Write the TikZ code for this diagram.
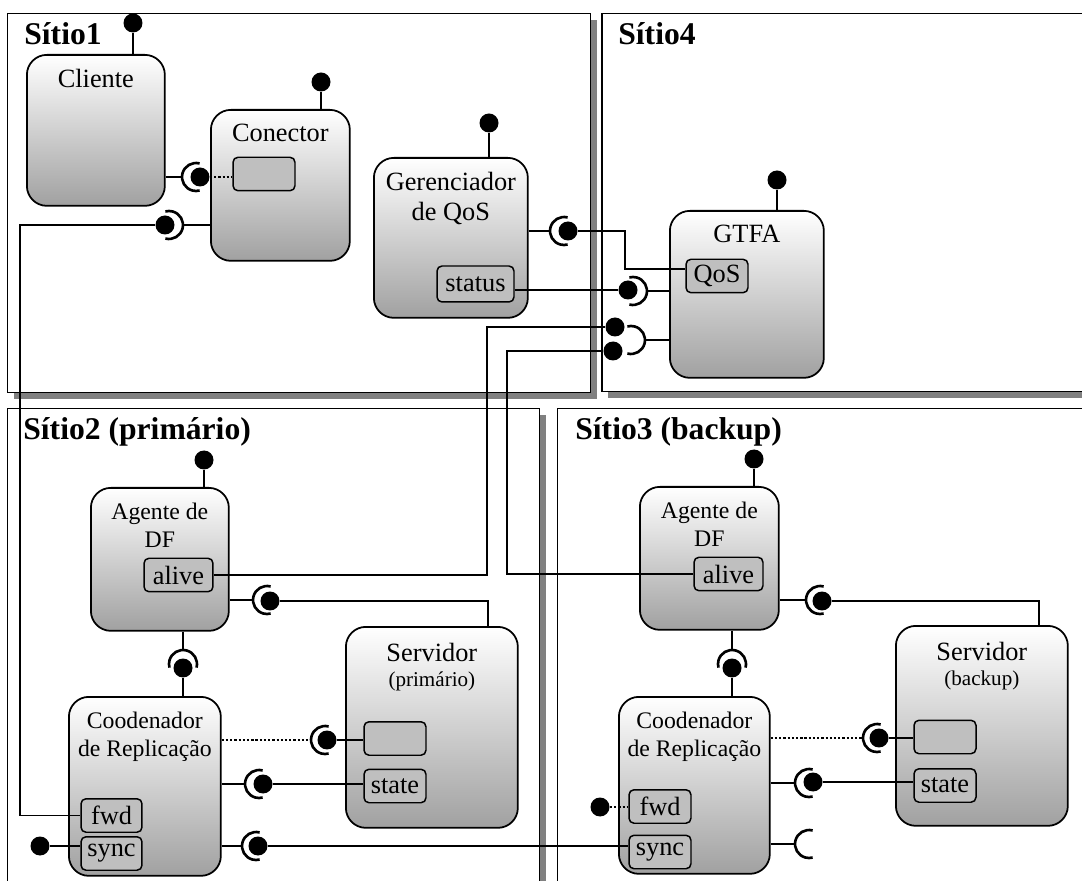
\documentclass[tikz,border=0pt]{standalone}
\usepackage{fontspec}
\setmainfont{Liberation Serif}
\usetikzlibrary{shadows}

\begin{document}
\begin{tikzpicture}[x=0.02cm, y=-0.02cm,
    site/.style={draw, fill=white, line width=0.85pt, anchor=north west, inner sep=0,
      drop shadow={shadow xshift=0.12cm, shadow yshift=-0.12cm, fill=black!50, opacity=1}},
    title/.style={anchor=base west, inner sep=0, font=\fontsize{18}{20}\selectfont\bfseries},
    comp/.style={draw, line width=1pt, rounded corners=0.4cm, anchor=north west, inner sep=0,
      top color=white, bottom color=black!37},
    lbl/.style={anchor=north, inner sep=0, align=center, font=\fontsize{15}{17}\selectfont},
    slbl/.style={lbl, font=\fontsize{13.5}{16}\selectfont},
    port/.style={draw, line width=0.85pt, rounded corners=0.1cm, fill=black!25, inner sep=0,
      minimum width=1.24cm, minimum height=0.67cm, font=\fontsize{15}{17}\selectfont},
    ball/.style={circle, fill=black, inner sep=0, minimum size=0.38cm},
    wire/.style={line width=0.9pt},
    stem/.style={line width=1.2pt},
    sock/.style={line width=1.5pt},
    dots/.style={line width=1.6pt, dash pattern=on 1.3pt off 1.1pt}
  ]
  \useasboundingbox (0,0) rectangle (1082,881);
  \clip (0,0) rectangle (1082,881);

  % sites
  \node[site, minimum width=11.66cm, minimum height=7.58cm] (s1) at (7,13) {};
  \node[site, minimum width=9.88cm, minimum height=7.56cm] (s4) at (601,13) {};
  \node[site, minimum width=10.64cm, minimum height=9.84cm] (s2) at (7,408) {};
  \node[site, minimum width=10.76cm, minimum height=9.84cm] (s3) at (557,408) {};
  \node[title] (s1-t) at (24,45) {Sítio1};
  \node[title] (s4-t) at (618,45) {Sítio4};
  \node[title] (s2-t) at (23,440) {Sítio2 (primário)};
  \node[title] (s3-t) at (575,440) {Sítio3 (backup)};

  % components
  \node[comp, minimum width=2.76cm, minimum height=3.02cm] (cliente) at (26,54) {};
  \node[comp, minimum width=2.78cm, minimum height=3.02cm] (conector) at (210,109) {};
  \node[comp, minimum width=3.08cm, minimum height=3.2cm] (gerente) at (373,157) {};
  \node[comp, minimum width=3.08cm, minimum height=3.34cm] (gtfa) at (669,210) {};
  \node[comp, minimum width=2.76cm, minimum height=2.86cm] (agente2) at (90,487) {};
  \node[comp, minimum width=3.04cm, minimum height=3.58cm] (coord2) at (68,696) {};
  \node[comp, minimum width=3.44cm, minimum height=4.02cm] (serv2) at (345,626) {};
  \node[comp, minimum width=2.78cm, minimum height=2.86cm] (agente3) at (639,486) {};
  \node[comp, minimum width=3.02cm, minimum height=3.54cm] (coord3) at (618,696) {};
  \node[comp, minimum width=3.44cm, minimum height=4.0cm] (serv3) at (895,625) {};

  \node[lbl] (cliente-t) at ([yshift=-0.3cm]cliente.north) {Cliente};
  \node[lbl] (conector-t) at ([yshift=-0.3cm]conector.north) {Conector};
  \node[lbl] (gerente-t) at ([yshift=-0.3cm]gerente.north) {Gerenciador\\de QoS};
  \node[lbl] (gtfa-t) at ([yshift=-0.3cm]gtfa.north) {GTFA};
  \node[slbl] (agente2-t) at ([yshift=-0.32cm]agente2.north) {Agente de\\DF};
  \node[slbl] (agente3-t) at ([yshift=-0.32cm]agente3.north) {Agente de\\DF};
  \node[slbl] (coord2-t) at ([yshift=-0.32cm]coord2.north) {Coodenador\\de Replicação};
  \node[slbl] (coord3-t) at ([yshift=-0.32cm]coord3.north) {Coodenador\\de Replicação};
  \node[lbl] (serv2-t) at ([yshift=-0.34cm]serv2.north) {Servidor\\[-3pt]{\fontsize{12}{14}\selectfont (primário)}};
  \node[lbl] (serv3-t) at ([yshift=-0.34cm]serv3.north) {Servidor\\[-3pt]{\fontsize{12}{14}\selectfont (backup)}};

  % ports
  \node[port] (cin) at (264,174) {};
  \node[port, minimum width=1.54cm, minimum height=0.72cm] (status) at (475.5,284) {status};
  \node[port] (qos) at (717,276) {QoS};
  \node[port, minimum width=1.38cm] (alive2) at (178.5,575) {alive};
  \node[port, minimum width=1.38cm] (alive3) at (728.5,574) {alive};
  \node[port, minimum width=1.22cm] (fwd2) at (111.5,815.5) {fwd};
  \node[port, minimum width=1.22cm] (sync2) at (111.5,853.5) {sync};
  \node[port] (fwd3) at (660,806.5) {fwd};
  \node[port] (sync3) at (660,852) {sync};
  \node[port] (sin2) at (395,738.5) {};
  \node[port] (state2) at (395,786) {state};
  \node[port] (sin3) at (945,737) {};
  \node[port] (state3) at (945,785.5) {state};

  % handles
  \node[ball] (cliente-h) at (133,23) {};
  \node[ball] (conector-h) at (321,82) {};
  \node[ball] (gerente-h) at (489,123) {};
  \node[ball] (gtfa-h) at (777,180) {};
  \node[ball] (agente2-h) at (204,460) {};
  \node[ball] (agente3-h) at (754,459) {};
  \foreach \c in {cliente,conector,gerente,gtfa,agente2,agente3}
    \draw[stem] (\c-h) -- (\c-h |- \c.north);

  % sockets
  \coordinate (sk-cli) at (196,177);
  \coordinate (sk-con) at (169,225);
  \coordinate (sk-ger) at (564,231);
  \coordinate (sk-gt1) at (633,291);
  \coordinate (sk-gt2) at (631,340);
  \coordinate (sk-ag2) at (267,600);
  \coordinate (sk-ag2b) at (183,664);
  \coordinate (sk-co2a) at (325,740);
  \coordinate (sk-co2b) at (259,784);
  \coordinate (sk-co2c) at (256,846);
  \coordinate (sk-ag3) at (820,600);
  \coordinate (sk-ag3b) at (732,664);
  \coordinate (sk-co3a) at (877,738);
  \coordinate (sk-co3b) at (809,783);
  \coordinate (sk-co3c) at (809,844);

  \foreach \c/\s in {cliente/sk-cli, gerente/sk-ger, agente2/sk-ag2, coord2/sk-co2b,
      coord2/sk-co2c, agente3/sk-ag3, coord3/sk-co3b, coord3/sk-co3c}
    \draw[wire] (\s -| \c.east) -- ([xshift=-0.28cm]\s);
  \foreach \c/\s in {conector/sk-con, gtfa/sk-gt1, gtfa/sk-gt2}
    \draw[wire] (\s -| \c.west) -- ([xshift=0.28cm]\s);
  \draw[dots] (sk-co2a -| coord2.east) -- ([xshift=-0.28cm]sk-co2a);
  \draw[dots] (sk-co3a -| coord3.east) -- ([xshift=-0.28cm]sk-co3a);
  \draw[stem] (sk-ag2b |- agente2.south) -- ([yshift=0.28cm]sk-ag2b);
  \draw[stem] (sk-ag3b |- agente3.south) -- ([yshift=0.28cm]sk-ag3b);

  \foreach \s in {sk-cli,sk-ger,sk-ag2,sk-co2a,sk-co2b,sk-co2c,sk-ag3,sk-co3a,sk-co3b,sk-co3c}
    \draw[sock] (\s) ++(75:0.28cm) arc[start angle=75, end angle=285, radius=0.28cm];
  \foreach \s in {sk-con,sk-gt1,sk-gt2}
    \draw[sock] (\s) ++(-105:0.28cm) arc[start angle=-105, end angle=105, radius=0.28cm];
  \foreach \s in {sk-ag2b,sk-ag3b}
    \draw[sock] (\s) ++(-15:0.28cm) arc[start angle=-15, end angle=195, radius=0.28cm];

  % provided interfaces
  \node[ball] (b-cli) at (200,177) {};
  \node[ball] (b-con) at (165,225) {};
  \node[ball] (b-ger) at (568,231) {};
  \node[ball] (b-st) at (628,290) {};
  \node[ball] (b-al2) at (615,327) {};
  \node[ball] (b-al3) at (613,351) {};
  \node[ball] (b-ag2) at (270,601) {};
  \node[ball] (b-ag2b) at (183,668) {};
  \node[ball] (b-co2a) at (327,740) {};
  \node[ball] (b-co2b) at (263,784) {};
  \node[ball] (b-co2c) at (258,846) {};
  \node[ball] (b-sy2) at (40,846) {};
  \node[ball] (b-ag3) at (822,601) {};
  \node[ball] (b-ag3b) at (732,668) {};
  \node[ball] (b-co3a) at (879,738) {};
  \node[ball] (b-co3b) at (813,782) {};
  \node[ball] (b-fw3) at (600,807) {};

  \coordinate (fwd-bend) at (20,225);
  \coordinate (qos-bend) at (625,231);
  \coordinate (al2-bend) at (487,327);
  \coordinate (al3-bend) at (507,351);

  \draw[dots] (b-cli) -- (b-cli -| cin.west);
  \draw[wire] (b-con) -- (fwd-bend) |- (fwd2.west);
  \draw[wire] (b-ger) -- (qos-bend) |- ([yshift=0.14cm]qos.west);
  \draw[wire] (b-st -| status.east) -- (b-st);
  \draw[wire] (alive2.east) -| (al2-bend) -- (b-al2);
  \draw[wire] (alive3.west) -| (al3-bend) -- (b-al3);
  \draw[wire] (b-ag2) -| ([xshift=-0.62cm]serv2.north east);
  \draw[stem] (b-ag2b) -- (b-ag2b |- coord2.north);
  \draw[wire] (b-co2a) -- (b-co2a -| sin2.west);
  \draw[wire] (b-co2b) -- (b-co2b -| state2.west);
  \draw[wire] (b-co2c) -- (b-co2c -| sync3.west);
  \draw[wire] (b-sy2) -- (b-sy2 -| sync2.west);
  \draw[wire] (b-ag3) -| ([xshift=-0.6cm]serv3.north east);
  \draw[stem] (b-ag3b) -- (b-ag3b |- coord3.north);
  \draw[wire] (b-co3a) -- (b-co3a -| sin3.west);
  \draw[wire] (b-co3b) -- (b-co3b -| state3.west);
  \draw[dots] (b-fw3) -- (b-fw3 -| fwd3.west);
\end{tikzpicture}
\end{document}
